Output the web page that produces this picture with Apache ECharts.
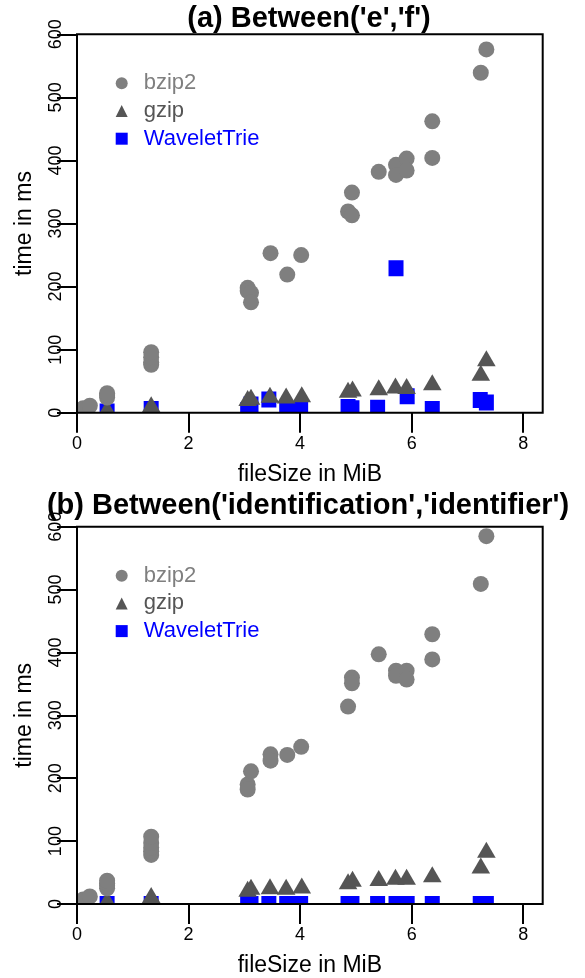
<!DOCTYPE html>
<html><head><meta charset="utf-8">
<script src="https://cdn.jsdelivr.net/npm/echarts@6/dist/echarts.min.js"></script>
<style>html,body{margin:0;padding:0;background:#fff}#c{width:585px;height:978px}</style>
</head><body><div id="c"></div>
<script>
// ---- data ----
const seriesNames = ['bzip2', 'gzip', 'WaveletTrie'];
const titles = ["(a) Between('e','f')", "(b) Between('identification','identifier')"];
const xTicks = [0, 2, 4, 6, 8];
const yTicks = [0, 100, 200, 300, 400, 500, 600];
const xName = 'fileSize in MiB';
const yName = 'time in ms';

// panel (a)
const bzip2A = [[0.11,7],[0.23,11],[0.54,24],[0.54,28],[0.54,31],[1.33,76],[1.33,80],[1.33,88],[1.33,96],
  [3.06,198],[3.06,193],[3.12,190],[3.12,175],[3.47,253],[3.77,219],[4.02,250],[4.86,319],[4.93,313],[4.93,349],
  [5.41,382],[5.72,393],[5.72,377],[5.91,403],[5.91,384],[6.37,404],[6.37,462],[7.24,539],[7.34,576]];
const gzipA = [[0.54,3],[1.33,9],[3.06,19],[3.12,21],[3.46,24],[3.75,23],[4.03,25],[4.86,32],[4.94,34],
  [5.41,36],[5.71,39],[5.91,38],[6.37,44],[7.24,59],[7.34,82]];
const waveA = [[0.54,2],[1.33,6],[3.06,4],[3.12,13],[3.44,21],[3.76,5],[4.01,5],[4.86,9],[4.93,7],
  [5.39,8],[5.72,229],[5.92,26],[6.37,6],[7.23,20],[7.34,16]];

// panel (b)
const bzip2B = [[0.11,7],[0.23,12],[0.54,25],[0.54,29],[0.54,33],[0.54,37],[1.33,78],[1.33,84],[1.33,90],[1.33,97],[1.33,107],
  [3.06,190],[3.06,182],[3.12,211],[3.47,238],[3.47,228],[3.77,237],[4.02,250],[4.86,314],[4.93,360],[4.93,351],
  [5.41,397],[5.72,371],[5.72,363],[5.91,371],[5.91,357],[6.37,429],[6.37,389],[7.24,509],[7.34,585]];
const gzipB = [[0.54,3],[1.33,10],[3.06,20],[3.12,23],[3.46,24],[3.75,23],[4.03,25],[4.86,32],[4.94,36],
  [5.41,37],[5.71,39],[5.91,39],[6.37,43],[7.24,57],[7.34,82]];
const waveB = [[0.54,0],[1.33,0],[3.06,0],[3.12,0],[3.44,0],[3.76,0],[4.01,0],[4.86,0],[4.93,0],
  [5.39,0],[5.72,0],[5.92,0],[6.37,0],[7.23,0],[7.34,0]];

// ---- style ----
const FONT = '"Liberation Sans", Arial, Helvetica, sans-serif';
const colors = {bzip2: '#7f7f7f', gzip: '#555555', WaveletTrie: '#0000ff'};

function circleItem(params, api) {
  const p = api.coord([api.value(0), api.value(1)]);
  return {type: 'circle', shape: {cx: p[0], cy: p[1], r: 8}, style: {fill: api.visual('color')}};
}
function triItem(params, api) {
  const p = api.coord([api.value(0), api.value(1)]);
  const hw = 9.3, up = 10.7, dn = 5.3;
  return {type: 'polygon', shape: {points: [[p[0], p[1] - up], [p[0] + hw, p[1] + dn], [p[0] - hw, p[1] + dn]]},
    style: {fill: api.visual('color')}};
}
function sqItem(params, api) {
  const p = api.coord([api.value(0), api.value(1)]);
  return {type: 'rect', shape: {x: p[0] - 7.5, y: p[1] - 8, width: 15, height: 16}, style: {fill: api.visual('color')}};
}

const grids = [
  {left: 77, top: 34.3, width: 465.7, height: 378.4},
  {left: 77, top: 526.7, width: 465.7, height: 377.6}
];

function xAxisFor(i) {
  return {
    gridIndex: i, type: 'value', min: 0, max: 8.35,
    axisLine: {show: false}, splitLine: {show: false},
    axisTick: {show: true, inside: false, length: 20, customValues: xTicks, lineStyle: {color: '#000', width: 2}},
    axisLabel: {customValues: xTicks, color: '#000', fontSize: 18, margin: 22, fontFamily: FONT},
    name: xName, nameLocation: 'middle', nameGap: 50,
    nameTextStyle: {fontSize: 23, color: '#000', fontFamily: FONT}
  };
}
function yAxisFor(i) {
  return {
    gridIndex: i, type: 'value', min: 0, max: 600, interval: 100,
    axisLine: {show: false}, splitLine: {show: false},
    axisTick: {show: true, inside: false, length: 20, customValues: yTicks, lineStyle: {color: '#000', width: 2}},
    axisLabel: {customValues: yTicks, color: '#000', fontSize: 18, margin: 12, rotate: 90, fontFamily: FONT},
    name: yName, nameLocation: 'middle', nameGap: 41,
    nameTextStyle: {fontSize: 23, color: '#000', fontFamily: FONT}
  };
}

function legendFor(i) {
  return {
    orient: 'vertical', left: 115.7, top: grids[i].top + 38, padding: 0,
    itemWidth: 12, itemHeight: 12, itemGap: 5.7, selectedMode: false,
    textStyle: {fontSize: 22, lineHeight: 22, fontFamily: FONT, padding: [0, 0, 0, 11]},
    data: [
      {name: 'bzip2', icon: 'circle', textStyle: {color: colors.bzip2}},
      {name: 'gzip', icon: 'triangle', textStyle: {color: colors.gzip}},
      {name: 'WaveletTrie', icon: 'rect', textStyle: {color: colors.WaveletTrie}}
    ]
  };
}

function seriesFor(i, wave, gz, bz) {
  const base = {type: 'custom', xAxisIndex: i, yAxisIndex: i, clip: true, encode: {x: 0, y: 1}, animation: false};
  return [
    Object.assign({}, base, {name: 'WaveletTrie', data: wave, renderItem: sqItem, itemStyle: {color: colors.WaveletTrie}}),
    Object.assign({}, base, {name: 'gzip', data: gz, renderItem: triItem, itemStyle: {color: colors.gzip}}),
    Object.assign({}, base, {name: 'bzip2', data: bz, renderItem: circleItem, itemStyle: {color: colors.bzip2}})
  ];
}

const chart = echarts.init(document.getElementById('c'), null, {renderer: 'canvas'});
chart.setOption({
  animation: false,
  backgroundColor: '#fff',
  title: [
    {text: titles[0], left: 309, top: 4, textAlign: 'center', padding: 0,
      textStyle: {fontSize: 29, fontWeight: 'bold', color: '#000', fontFamily: FONT}},
    {text: titles[1], left: 308, top: 491, textAlign: 'center', padding: 0,
      textStyle: {fontSize: 29, fontWeight: 'bold', color: '#000', fontFamily: FONT}}
  ],
  grid: grids.map(g => Object.assign({show: true, borderColor: '#000', borderWidth: 2, z: 10,
    backgroundColor: 'transparent'}, g)),
  xAxis: [xAxisFor(0), xAxisFor(1)],
  yAxis: [yAxisFor(0), yAxisFor(1)],
  legend: [legendFor(0), legendFor(1)],
  series: seriesFor(0, waveA, gzipA, bzip2A).concat(seriesFor(1, waveB, gzipB, bzip2B))
});
</script></body></html>
